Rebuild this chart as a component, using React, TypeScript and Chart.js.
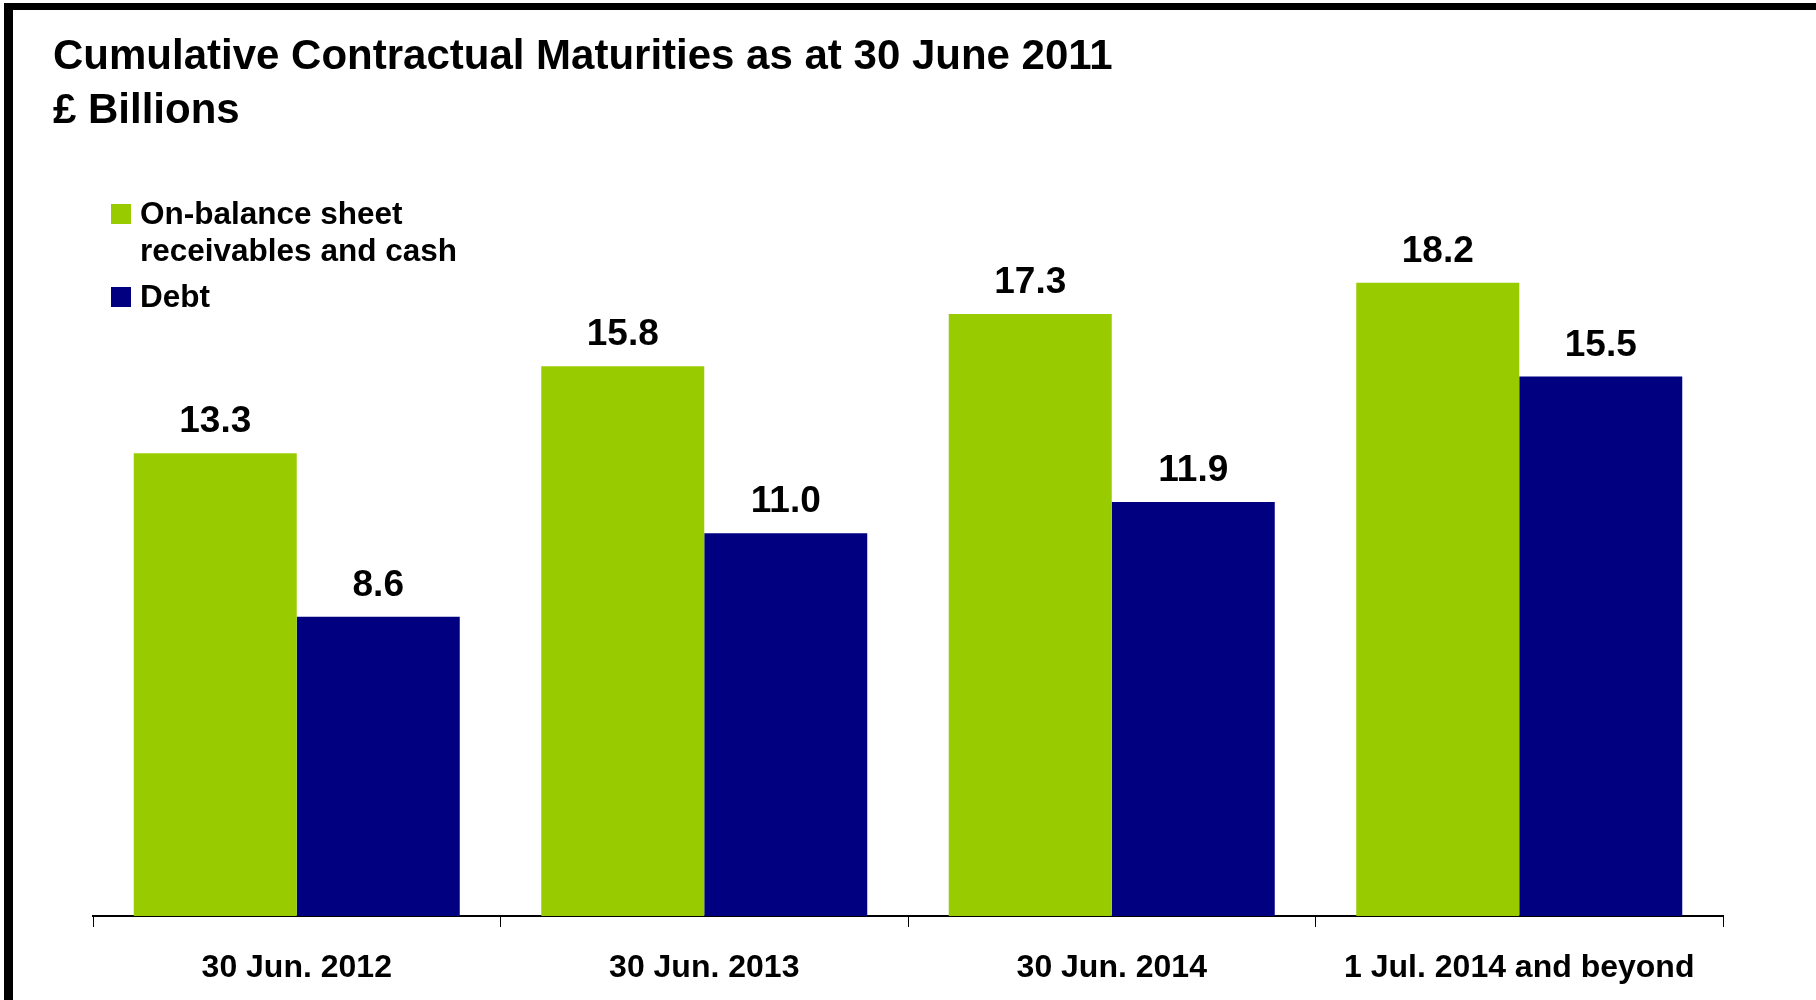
import React, { useEffect, useRef } from "react";
import { Chart, registerables } from "chart.js";

Chart.register(...registerables);

const categories = ["30 Jun. 2012", "30 Jun. 2013", "30 Jun. 2014", "1 Jul. 2014 and beyond"];
const receivables = [13.3, 15.8, 17.3, 18.2];
const debt = [8.6, 11.0, 11.9, 15.5];
const seriesNames = ["On-balance sheet receivables and cash", "Debt"];
const legendLines = [["On-balance sheet", "receivables and cash"], ["Debt"]];
const titleLines = ["Cumulative Contractual Maturities as at 30 June 2011", "£ Billions"];

const GREEN = "#99CC00";
const NAVY = "#000080";
const FONT = "'Liberation Sans', Arial, Helvetica, sans-serif";

const decorPlugin = {
  id: "decor",
  afterDraw(chart: any) {
    const ctx = chart.ctx as CanvasRenderingContext2D;
    ctx.save();
    // frame (left and top)
    ctx.fillStyle = "#000";
    ctx.fillRect(4, 3, 9, 1000);
    ctx.fillRect(4, 3, 1816, 7);
    // title
    ctx.fillStyle = "#000";
    ctx.textAlign = "left";
    ctx.textBaseline = "alphabetic";
    ctx.font = `bold 42px ${FONT}`;
    ctx.fillText(titleLines[0], 53, 69);
    ctx.fillText(titleLines[1], 53, 123);
    // legend
    ctx.font = `bold 31.5px ${FONT}`;
    ctx.fillStyle = GREEN;
    ctx.fillRect(111, 204, 20, 20);
    ctx.fillStyle = NAVY;
    ctx.fillRect(111, 287, 20, 20);
    ctx.fillStyle = "#000";
    ctx.fillText(legendLines[0][0], 140, 224);
    ctx.fillText(legendLines[0][1], 140, 261);
    ctx.fillText(legendLines[1][0], 140, 307);
    // data labels
    ctx.textAlign = "center";
    ctx.font = `bold 37px ${FONT}`;
    chart.data.datasets.forEach((ds: any, di: number) => {
      const meta = chart.getDatasetMeta(di);
      meta.data.forEach((el: any, i: number) => {
        const v = ds.data[i] as number;
        ctx.fillText(v.toFixed(1), el.x, el.y - 21);
      });
    });
    ctx.restore();
  },
};

export default function App() {
  const ref = useRef<HTMLCanvasElement | null>(null);
  useEffect(() => {
    document.body.style.margin = "0";
    const canvas = ref.current!;
    const chart = new Chart(canvas, {
      type: "bar",
      data: {
        labels: categories,
        datasets: [
          { label: seriesNames[0], data: receivables, backgroundColor: GREEN, categoryPercentage: 0.8, barPercentage: 1.0 },
          { label: seriesNames[1], data: debt, backgroundColor: NAVY, categoryPercentage: 0.8, barPercentage: 1.0 },
        ],
      },
      options: {
        responsive: false,
        animation: false,
        layout: { padding: { left: 93, right: 93, top: 220, bottom: 0 } },
        plugins: {
          legend: { display: false },
          title: { display: false },
          tooltip: { enabled: false },
        },
        scales: {
          x: {
            offset: true,
            grid: {
              offset: true,
              drawOnChartArea: false,
              drawTicks: true,
              tickLength: 11,
              color: "#000",
              lineWidth: 1,
            },
            border: { display: true, color: "#000", width: 2 },
            ticks: {
              color: "#000",
              font: { family: FONT, size: 32, weight: "bold" },
              padding: 22,
              maxRotation: 0,
            },
            afterFit(scale: any) {
              scale.height = 84;
            },
          },
          y: {
            display: false,
            min: 0,
            max: 20,
          },
        },
      },
      plugins: [decorPlugin],
    });
    return () => chart.destroy();
  }, []);
  return (
    <div style={{ width: 1816, height: 1000, background: "#fff" }}>
      <canvas ref={ref} width={1816} height={1000} style={{ display: "block" }} />
    </div>
  );
}
